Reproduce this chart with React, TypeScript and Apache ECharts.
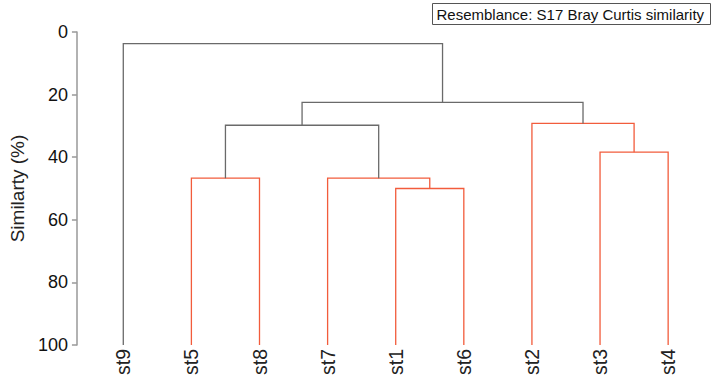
import React, { useEffect, useRef } from "react";
import * as echarts from "echarts";

// Leaf order (left to right)
const leaves = ["st9", "st5", "st8", "st7", "st1", "st6", "st2", "st3", "st4"];

// Merges: node ids 0..8 are leaves, merges get ids 9, 10, ...
const mergeLeft = [1, 4, 3, 7, 6, 9, 14, 0];
const mergeRight = [2, 5, 10, 8, 12, 11, 13, 15];
const mergeHeight = [46.7, 50.0, 46.7, 38.4, 29.2, 29.8, 22.5, 3.7];
const mergeRed = [true, true, true, true, true, false, false, false];

const yTicks = [0, 20, 40, 60, 80, 100];
const legendText = "Resemblance: S17 Bray Curtis similarity";

const FONT = "'Liberation Sans', Arial, sans-serif";
const RED = "#f25c3c";
const GRAY = "#6a6a6a";

export default function App() {
  const ref = useRef<HTMLDivElement>(null);

  useEffect(() => {
    document.body.style.margin = "0";
    if (!ref.current) return;
    const chart = echarts.init(ref.current, undefined, { renderer: "svg" });

    const nodeX: number[] = leaves.map((_, i) => i);
    const nodeH: number[] = leaves.map(() => 100);
    mergeLeft.forEach((l, k) => {
      const r = mergeRight[k];
      nodeX.push((nodeX[l] + nodeX[r]) / 2);
      nodeH.push(mergeHeight[k]);
    });

    const option: any = {
      animation: false,
      backgroundColor: "#fff",
      grid: { left: 86.8, right: 10.8, top: 32, bottom: 35 },
      xAxis: {
        type: "category",
        data: leaves,
        boundaryGap: true,
        axisLine: { show: false },
        axisTick: { show: false },
        splitLine: { show: false },
        axisLabel: {
          rotate: 90,
          fontSize: 19.5,
          color: "#222",
          fontFamily: FONT,
          margin: 4,
          interval: 0,
        },
      },
      yAxis: {
        type: "value",
        inverse: true,
        min: 0,
        max: 100,
        interval: 20,
        offset: 12.3,
        name: "Similarty (%)",
        nameLocation: "middle",
        nameGap: 47,
        nameTextStyle: { fontSize: 19, color: "#222", fontFamily: FONT },
        axisLine: { show: true, lineStyle: { color: "#999", width: 1.5 } },
        axisTick: { show: true, length: 5, lineStyle: { color: "#999", width: 1.5 } },
        splitLine: { show: false },
        axisLabel: {
          fontSize: 18,
          color: "#111",
          fontFamily: FONT,
          margin: 9,
          formatter: (v: number) => (yTicks.includes(v) ? String(v) : ""),
        },
      },
      series: [
        {
          type: "custom",
          clip: false,
          data: mergeLeft.map((_, k) => [0, mergeHeight[k]]),
          renderItem: (params: any, api: any) => {
            const k = params.dataIndex;
            const p0 = api.coord([0, 0])[0];
            const p1 = api.coord([1, 0])[0];
            const px = (x: number) => p0 + (p1 - p0) * x;
            const py = (h: number) => api.coord([0, h])[1];
            const l = mergeLeft[k];
            const r = mergeRight[k];
            const h = mergeHeight[k];
            return {
              type: "polyline",
              shape: {
                points: [
                  [px(nodeX[l]), py(nodeH[l])],
                  [px(nodeX[l]), py(h)],
                  [px(nodeX[r]), py(h)],
                  [px(nodeX[r]), py(nodeH[r])],
                ],
              },
              style: {
                fill: "none",
                stroke: mergeRed[k] ? RED : GRAY,
                lineWidth: 1.3,
              },
            };
          },
        },
      ],
      graphic: [
        {
          type: "group",
          left: 432,
          top: 3,
          children: [
            {
              type: "rect",
              shape: { x: 0, y: 0, width: 278, height: 21 },
              style: { fill: "#fff", stroke: "#555", lineWidth: 1 },
            },
            {
              type: "text",
              x: 4,
              y: 11,
              style: {
                text: legendText,
                fontSize: 15,
                fill: "#111",
                fontFamily: FONT,
                verticalAlign: "middle",
                align: "left",
              },
            },
          ],
        },
      ],
    };
    chart.setOption(option);
    return () => chart.dispose();
  }, []);

  return <div ref={ref} style={{ width: 713, height: 380 }} />;
}
